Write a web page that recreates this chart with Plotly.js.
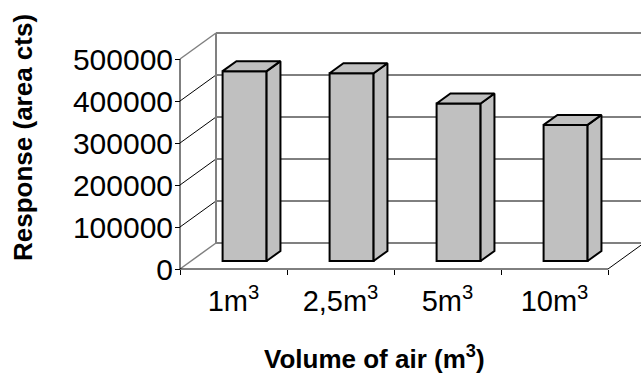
<!DOCTYPE html>
<html>
<head>
<meta charset="utf-8">
<script src="https://cdn.plot.ly/plotly-3.0.1.min.js"></script>
<style>html,body{margin:0;padding:0;background:#fff;}#chart{width:641px;height:374px;}</style>
</head>
<body>
<div id="chart"></div>
<script>
// ---- data ----
const categories = ['1m<sup>3</sup>', '2,5m<sup>3</sup>', '5m<sup>3</sup>', '10m<sup>3</sup>'];
const responses = [452000, 447000, 375000, 324000];
const yTickVals = [0, 100000, 200000, 300000, 400000, 500000];
const yTickText = ['0', '100000', '200000', '300000', '400000', '500000'];
const xTitle = 'Volume of air (m<sup>3</sup>)';
const yTitle = 'Response (area cts)';

// ---- layout geometry ----
const W = 641, H = 374;
const M = {l: 176, r: 0, t: 30, b: 102};
const plotW = W - M.l - M.r, plotH = H - M.t - M.b;
const FRONT_X0_PX = 180, ZERO_PX = 269;
const PX_PER_CAT = 107, PX_PER_VAL = 42 / 100000;
const x0 = -0.5, xEnd = categories.length - 0.5;
const xRange = [x0 - (FRONT_X0_PX - M.l) / PX_PER_CAT, x0 + (W - M.r - FRONT_X0_PX) / PX_PER_CAT];
const yRange = [-(H - M.b - ZERO_PX) / PX_PER_VAL, (ZERO_PX - M.t) / PX_PER_VAL];
const WALL_DX = 36 / PX_PER_CAT, WALL_DY = 26 / PX_PER_VAL;
const BAR_F = 0.308, BAR_G = 0.385, BAR_W = 44 / PX_PER_CAT;
const sx = WALL_DX * BAR_F, sy = WALL_DY * BAR_F;
const bdx = WALL_DX * BAR_G, bdy = WALL_DY * BAR_G;
const yTop = yTickVals[yTickVals.length - 1];

const FONT = 'Liberation Sans, Arial, sans-serif';
const FILL = '#c0c0c0', GREY = '#808080';

const xPos = categories.map((c, i) => i);

// ---- traces ----
const traces = [{
  type: 'bar',
  x: xPos.map(i => i + sx),
  y: responses,
  base: responses.map(() => sy),
  width: BAR_W,
  marker: {color: FILL, line: {color: '#000', width: 2}},
  hoverinfo: 'skip', showlegend: false
}];
responses.forEach((v, i) => {
  const xl = i + sx - BAR_W / 2, xr = i + sx + BAR_W / 2;
  const yb = sy, yt = sy + v;
  traces.push({
    type: 'scatter', mode: 'lines', fill: 'toself', fillcolor: FILL,
    x: [xr, xr, xr + bdx, xr + bdx, xr],
    y: [yb, yt, yt + bdy, yb + bdy, yb],
    line: {color: '#000', width: 2}, hoverinfo: 'skip', showlegend: false
  });
  traces.push({
    type: 'scatter', mode: 'lines', fill: 'toself', fillcolor: FILL,
    x: [xl, xr, xr + bdx, xl + bdx, xl],
    y: [yt, yt, yt + bdy, yt + bdy, yt],
    line: {color: '#000', width: 2}, hoverinfo: 'skip', showlegend: false
  });
});

// ---- 3D wall shapes ----
const shapes = [];
function seg(xa, ya, xb, yb, color, width) {
  shapes.push({type: 'line', xref: 'x', yref: 'y', x0: xa, y0: ya, x1: xb, y1: yb,
    line: {color: color, width: width}, layer: 'below'});
}
yTickVals.forEach(v => {
  const edge = (v === 0 || v === yTop);
  const col = edge ? GREY : '#000';
  seg(x0, v, x0 + WALL_DX, v + WALL_DY, col, edge ? 1.5 : 1);
  seg(x0 + WALL_DX, v + WALL_DY, xRange[1] + 1, v + WALL_DY, col, edge ? 2 : 1);
});
seg(x0 + WALL_DX, WALL_DY, x0 + WALL_DX, yTop + WALL_DY, GREY, 2);
seg(x0, 0, x0, yTop, '#000', 1);
seg(x0, 0, xEnd, 0, '#000', 1);
seg(xEnd, 0, xEnd + WALL_DX, WALL_DY, '#000', 1);

function px2paperX(px) { return (px - M.l) / plotW; }
function px2paperY(py) { return (H - M.b - py) / plotH; }

const layout = {
  width: W, height: H,
  margin: M,
  paper_bgcolor: '#fff', plot_bgcolor: 'rgba(0,0,0,0)',
  font: {family: FONT, color: '#000'},
  showlegend: false,
  xaxis: {
    type: 'linear', range: xRange, anchor: 'free', position: px2paperY(ZERO_PX),
    tickvals: xPos, ticktext: categories, ticks: '',
    tickfont: {family: FONT, size: 29, color: '#000'},
    ticklabelstandoff: 12,
    minor: {tickvals: [-0.5, 0.5, 1.5, 2.5, 3.5], ticks: 'outside', ticklen: 5, tickcolor: '#000', tickwidth: 1, showgrid: false},
    showgrid: false, zeroline: false, showline: false, fixedrange: true
  },
  yaxis: {
    type: 'linear', range: yRange, anchor: 'free', position: px2paperX(FRONT_X0_PX),
    tickvals: yTickVals, ticktext: yTickText, ticks: 'outside', ticklen: 5,
    tickcolor: '#000', tickwidth: 1,
    tickfont: {family: FONT, size: 30, color: '#000'},
    ticklabelstandoff: -4,
    showgrid: false, zeroline: false, showline: false, fixedrange: true
  },
  shapes: shapes,
  annotations: [
    {text: xTitle, xref: 'paper', yref: 'paper', x: px2paperX(374), y: px2paperY(357),
     xanchor: 'center', yanchor: 'middle', showarrow: false,
     font: {family: FONT, size: 26, color: '#000', weight: 'bold'}},
    {text: yTitle, xref: 'paper', yref: 'paper', x: px2paperX(23), y: px2paperY(138),
     xanchor: 'center', yanchor: 'middle', showarrow: false, textangle: -90,
     font: {family: FONT, size: 26, color: '#000', weight: 'bold'}}
  ]
};

Plotly.newPlot('chart', traces, layout, {staticPlot: true, displayModeBar: false});
</script>
</body>
</html>
